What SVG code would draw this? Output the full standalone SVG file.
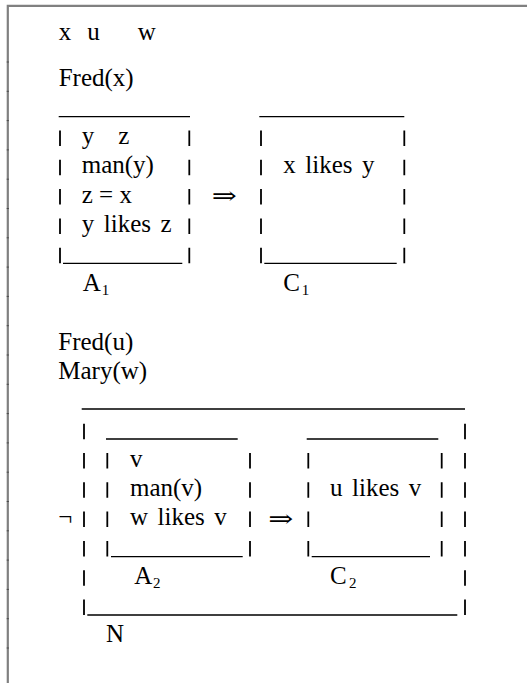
<svg xmlns="http://www.w3.org/2000/svg" width="527" height="683" viewBox="0 0 527 683">
<style>
.t{font-family:"Liberation Serif","Times New Roman","DejaVu Serif",serif;font-size:25px;fill:#000}
.s{font-size:15px}
.a{font-family:"DejaVu Serif",serif;font-size:24px;font-weight:normal;fill:#000}
.u{stroke:#000;stroke-width:1.3;fill:none}
.p{stroke:#000;stroke-width:1.8;fill:none}
.f{stroke:#808080;stroke-width:2.2;fill:none}
.k{stroke:#4a4a4a;stroke-width:1;fill:none}
</style>
<rect width="527" height="683" fill="#fff"/>
<g id="frame">
<path class="f" d="M7.8 4.8V683M6.7 5.8H527"/>
<path class="k" d="M6.7 62h2.2M6.7 91.3h2.2M6.7 120.6h2.2M6.7 149.9h2.2M6.7 179.2h2.2M6.7 208.5h2.2M6.7 237.8h2.2M6.7 267.1h2.2M6.7 296.4h2.2M6.7 325.7h2.2M6.7 355h2.2M6.7 384.3h2.2M6.7 413.6h2.2M6.7 442.9h2.2M6.7 472.2h2.2M6.7 501.5h2.2M6.7 530.8h2.2M6.7 560.1h2.2M6.7 589.4h2.2M6.7 618.7h2.2M6.7 648h2.2"/>
</g>
<g id="universe">
<text class="t" y="39.5"><tspan x="58.7">x</tspan><tspan x="87.3">u</tspan><tspan x="137.7">w</tspan></text>
<text class="t" x="58.7" y="86">Fred(x)</text>
</g>
<g id="box-A1">
<path class="u" d="M58.7 116.7H190M63 263.3H182.3"/>
<path class="p" d="M60 130.5v15.5M60 159.8v15.5M60 189.1v15.5M60 218.5v15.5M60 247.8v15.5M189.3 130.5v15.5M189.3 159.8v15.5M189.3 189.1v15.5M189.3 218.5v15.5M189.3 247.8v15.5"/>
<text class="t" y="144"><tspan x="81.7">y</tspan><tspan x="118.3">z</tspan></text>
<text class="t" x="81.7" y="173.3">man(y)</text>
<text class="t" x="81.7" y="202.6">z = x</text>
<text class="t" x="81.7" y="232" word-spacing="3.3">y likes z</text>
<text class="t" x="82.7" y="290.6">A<tspan class="s" x="101.7" y="295">1</tspan></text>
</g>
<g id="box-C1">
<path class="u" d="M259.3 116.7H404.3M264.3 263.3H396.7"/>
<path class="p" d="M261 130.5v15.5M261 159.8v15.5M261 189.1v15.5M261 218.5v15.5M261 247.8v15.5M404.3 130.5v15.5M404.3 159.8v15.5M404.3 189.1v15.5M404.3 218.5v15.5M404.3 247.8v15.5"/>
<text class="t" x="283.3" y="173.3" word-spacing="3.3">x likes y</text>
<text class="t" x="283.3" y="290.6">C<tspan class="s" x="301.7" y="295">1</tspan></text>
</g>
<g id="facts">
<text class="t" x="58.3" y="349.5">Fred(u)</text>
<text class="t" x="58.3" y="378.6">Mary(w)</text>
</g>
<g id="box-N">
<path class="u" d="M81.7 409H465M87.3 615H457.3"/>
<path class="p" d="M84 423.7v15.5M84 453v15.5M84 482.3v15.5M84 511.6v15.5M84 540.9v15.5M84 570.2v15.5M84 599.5v15.5M465 423.7v15.5M465 453v15.5M465 482.3v15.5M465 511.6v15.5M465 540.9v15.5M465 570.2v15.5M465 599.5v15.5"/>
<text class="t" x="58.3" y="525.1">¬</text>
<text class="t" x="106" y="642.3">N</text>
</g>
<g id="box-A2">
<path class="u" d="M106 439H237.7M111 556.6H242.7"/>
<path class="p" d="M107.3 453v15.5M107.3 482.3v15.5M107.3 511.6v15.5M107.3 540.9v15.5M250 453v15.5M250 482.3v15.5M250 511.6v15.5M250 540.9v15.5"/>
<text class="t" x="130" y="466.5">v</text>
<text class="t" x="130" y="495.8">man(v)</text>
<text class="t" x="130" y="525.1" word-spacing="3.3">w likes v</text>
<text class="t" x="134.3" y="583.7">A<tspan class="s" x="153" y="588">2</tspan></text>
</g>
<g id="box-C2">
<path class="u" d="M306.7 439H438.3M311.7 556.6H430"/>
<path class="p" d="M308.3 453v15.5M308.3 482.3v15.5M308.3 511.6v15.5M308.3 540.9v15.5M441.7 453v15.5M441.7 482.3v15.5M441.7 511.6v15.5M441.7 540.9v15.5"/>
<text class="t" x="330" y="495.8" word-spacing="3.3">u likes v</text>
<text class="t" x="330" y="583.7">C<tspan class="s" x="349" y="588">2</tspan></text>
</g>
<g id="connectors">
<text class="a" x="211.7" y="204" textLength="25" lengthAdjust="spacingAndGlyphs">⇒</text>
<text class="a" x="268.3" y="526.5" textLength="25" lengthAdjust="spacingAndGlyphs">⇒</text>
</g>
</svg>
